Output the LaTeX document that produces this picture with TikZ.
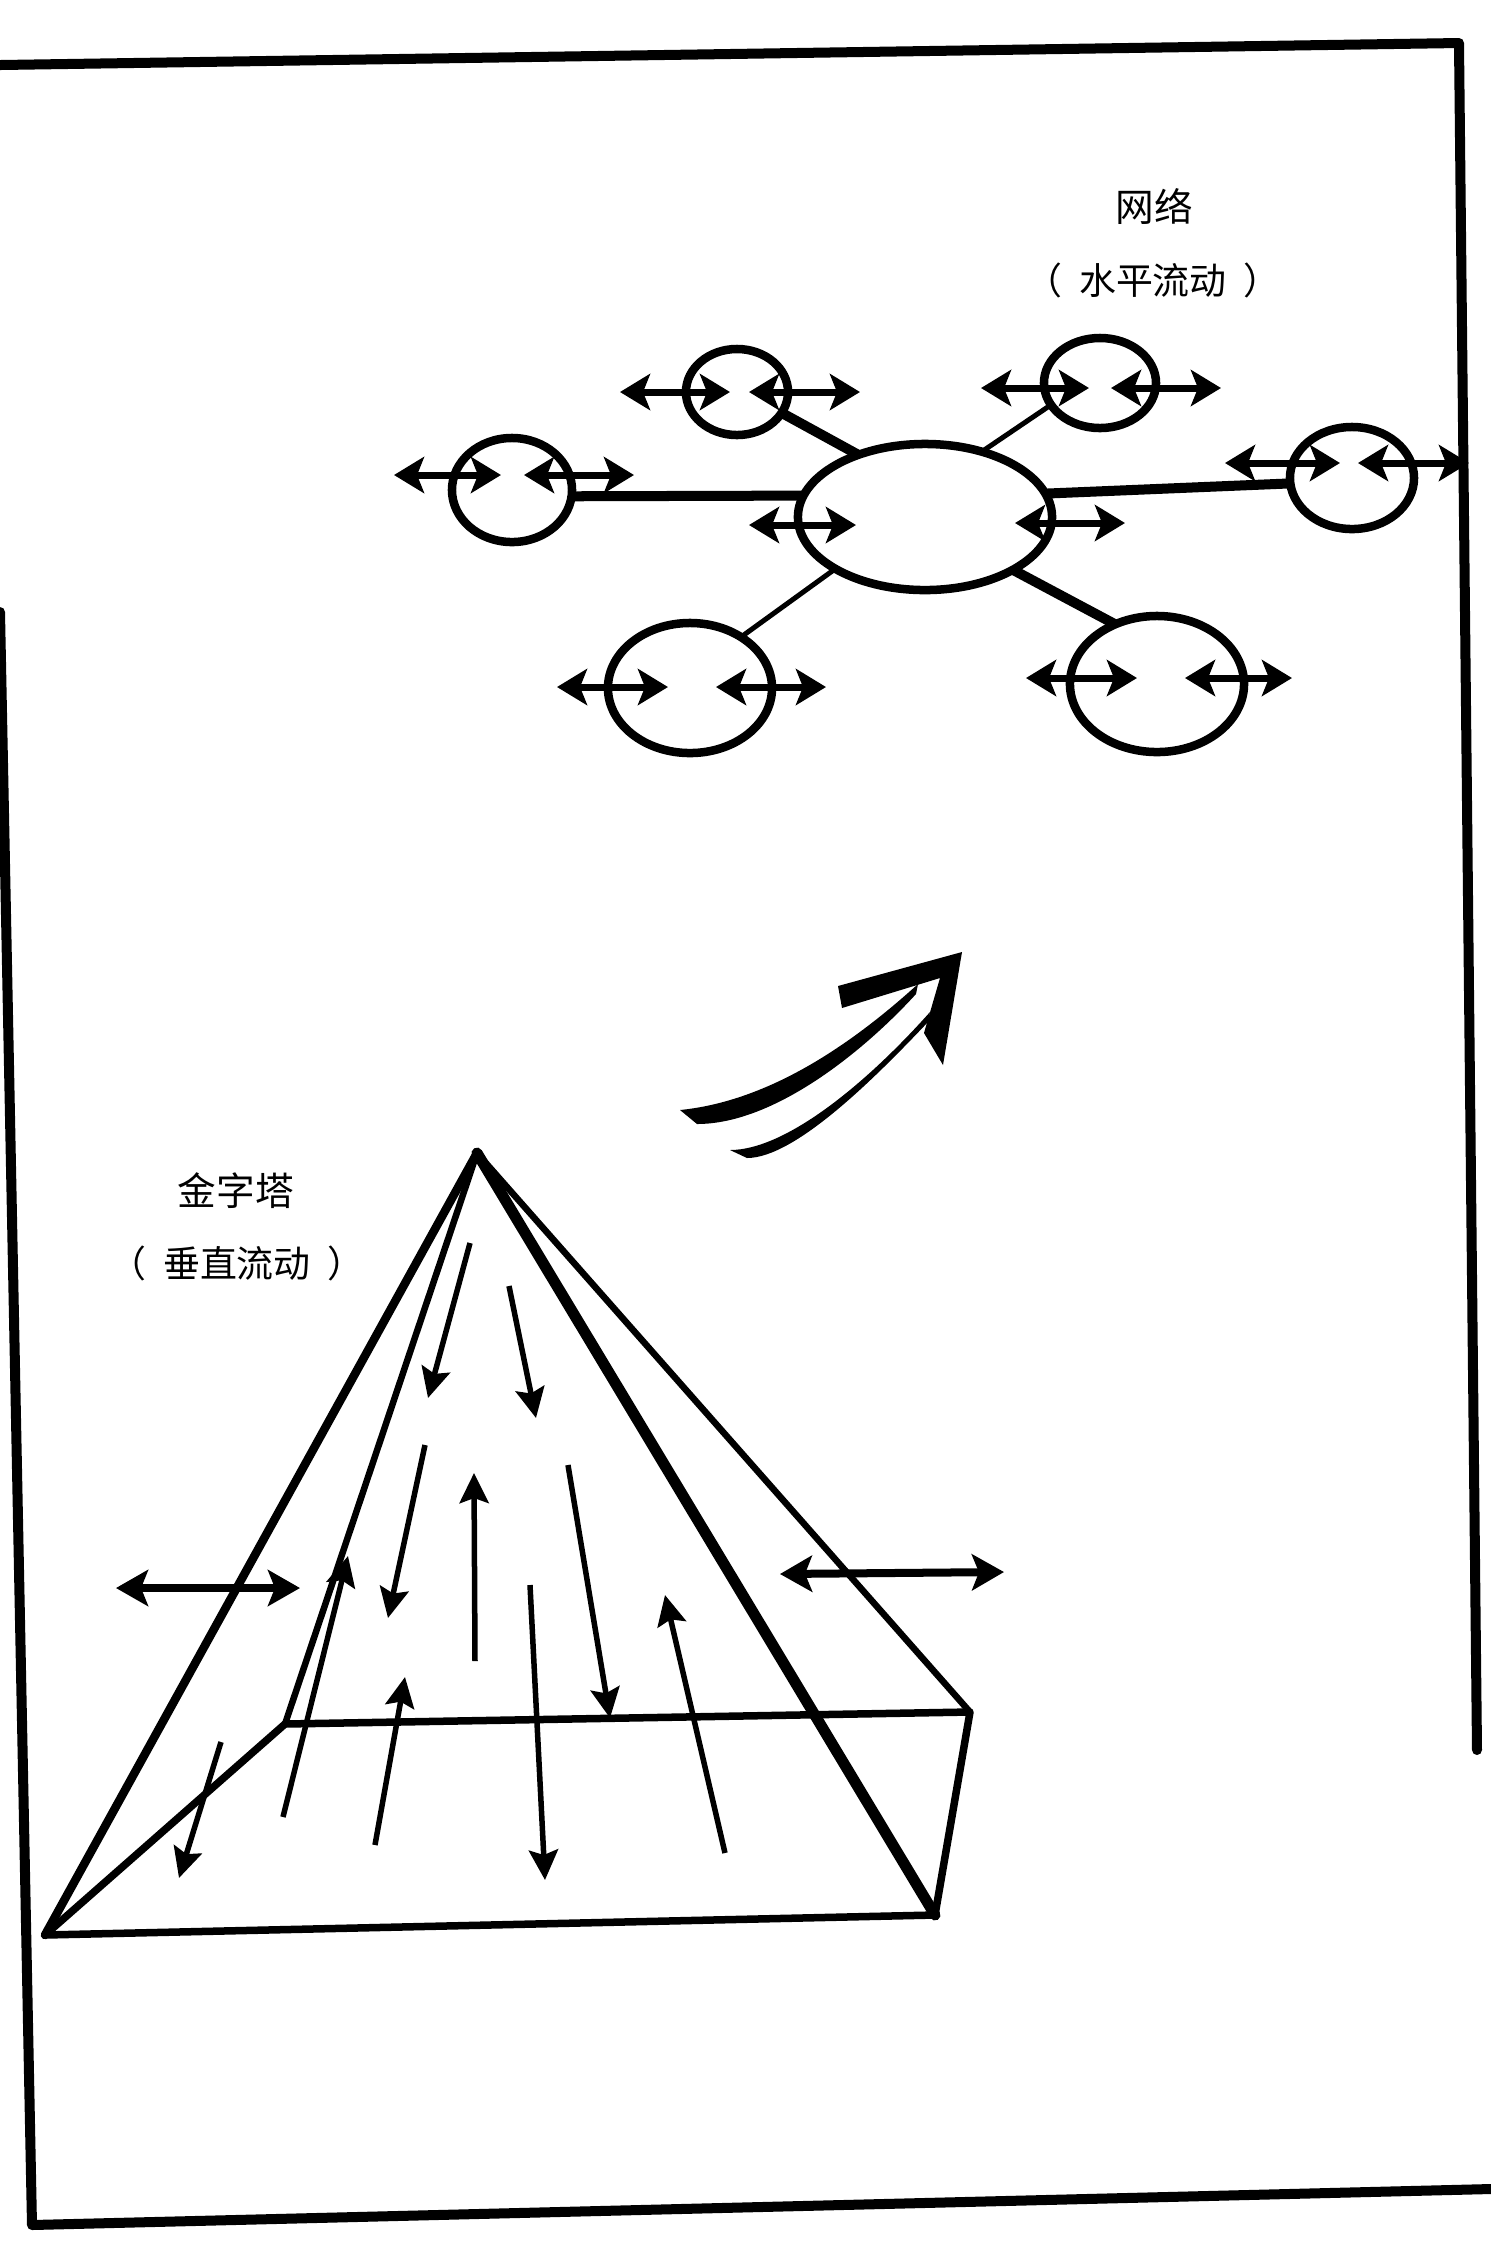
\documentclass[tikz,border=0pt]{standalone}
\usepackage{fontspec}
\newfontfamily\cjk{Noto Sans CJK SC}
\usetikzlibrary{shapes.geometric,arrows.meta}

\tikzset{
    frameline/.style={line width=0.1cm,line cap=round,line join=round},
    bubble/.style={ellipse,draw,line width=0.085cm,inner sep=0pt,outer sep=0pt},
    flow/.style={line width=0.07cm,{Stealth[length=3mm,width=3.6mm,inset=0.7mm]}-{Stealth[length=3mm,width=3.6mm,inset=0.7mm]}},
    thicklink/.style={line width=0.1cm},
    thinlink/.style={line width=0.05cm},
    ridge/.style={line width=0.075cm,line cap=round,line join=round},
    drift/.style={line width=0.055cm,-{Stealth[length=3mm,width=2.9mm,inset=0.5mm]}},
    sway/.style={line width=0.08cm,{Stealth[length=3.2mm,width=3.6mm,inset=0.7mm]}-{Stealth[length=3.2mm,width=3.6mm,inset=0.7mm]}},
    title/.style={font=\cjk\fontsize{11pt}{13pt}\selectfont,inner sep=0pt},
    note/.style={font=\cjk\fontsize{10.5pt}{12pt}\selectfont,inner sep=0pt}
}

\begin{document}
\begin{tikzpicture}[x=0.01cm,y=-0.01cm]
    \useasboundingbox (0,0) rectangle (1491,2265);

    % frame
    \draw[frameline] (0,65) -- (1459,43) -- (1477,1750);
    \draw[frameline] (0,612) -- (32,2225) -- (1491,2189);

    % labels
    \node[title] (net) at (1154,206) {网络};
    \node[note] (netsub) at (1153,280) {（\hspace{0.45em}水平流动\hspace{0.45em}）};
    \node[title] (pyr) at (236,1191) {金字塔};
    \node[note] (pyrsub) at (237,1263) {（\hspace{0.45em}垂直流动\hspace{0.45em}）};

    % network
    \node[bubble,minimum width=2.54cm,minimum height=1.46cm] (hub) at (925,517) {};
    \node[bubble,minimum width=1.02cm,minimum height=0.86cm] (ul) at (737,392) {};
    \node[bubble,minimum width=1.12cm,minimum height=0.90cm] (ur) at (1100,383) {};
    \node[bubble,minimum width=1.20cm,minimum height=1.04cm] (ml) at (512,490) {};
    \node[bubble,minimum width=1.24cm,minimum height=1.02cm] (mr) at (1352,478) {};
    \node[bubble,minimum width=1.64cm,minimum height=1.30cm] (dl) at (690,688) {};
    \node[bubble,minimum width=1.74cm,minimum height=1.36cm] (dr) at (1157,684) {};

    \draw[thicklink] (hub.137) -- (ul.-25);
    \draw[thinlink] (hub.49) -- (ur.204);
    \draw[thicklink] (hub.170) -- (ml.-6);
    \draw[thicklink] (hub.11) -- (mr.185);
    \draw[thinlink] (hub.210) -- (dl.45);
    \draw[thicklink] (hub.329) -- (dr.125);

    \foreach \y/\a/\b/\c/\d in {392/620/730/749/860, 388/981/1089/1111/1221,
        475/394/501/524/634, 463/1225/1340/1358/1469,
        687/557/668/716/826, 678/1026/1137/1185/1292}
    {
        \draw[flow] (\a,\y) -- (\b,\y);
        \draw[flow] (\c,\y) -- (\d,\y);
    }
    \draw[flow] (749,525) -- (856,525);
    \draw[flow] (1015,523) -- (1125,523);

    % curved arrow
    \fill (680,1110) .. controls (760,1102) and (840,1055) .. (918,984)
        -- (916,994) .. controls (865,1050) and (775,1124) .. (697,1124) -- cycle;
    \fill (730,1150) .. controls (785,1150) and (865,1085) .. (930,1012)
        -- (928,1022) .. controls (875,1078) and (795,1158) .. (747,1158) -- cycle;
    \fill (838,986) -- (962,952) -- (943,1065) -- (924,1033) -- (940,978) -- (842,1008) -- cycle;

    % pyramid
    \coordinate (T) at (477,1153);
    \coordinate (A) at (45,1935);
    \coordinate (B) at (935,1915);
    \coordinate (C) at (970,1712);
    \coordinate (D) at (285,1724);

    \draw[ridge,line width=0.085cm] (T) -- (A);
    \draw[ridge,line width=0.11cm] (T) -- (B);
    \draw[ridge,line width=0.065cm] (T) -- (C);
    \draw[ridge,line width=0.065cm] (T) -- (D);
    \draw[ridge] (A) -- (B) -- (C) -- (D) -- cycle;

    \foreach \p/\q in {470/1243, 509/1286, 425/1445, 475/1661, 568/1465,
        725/1853, 375/1845, 283/1817, 221/1742, 530/1585}
        \coordinate (s\p) at (\p,\q);
    \draw[drift] (s470) -- (428,1398);
    \draw[drift] (s509) -- (536,1418);
    \draw[drift] (s425) -- (388,1618);
    \draw[drift] (s475) -- (474,1473);
    \draw[drift] (s568) -- (610,1718);
    \draw[drift] (s725) -- (665,1595);
    \draw[drift] (s375) -- (405,1677);
    \draw[drift] (s283) -- (348,1556);
    \draw[drift] (s221) -- (179,1878);
    \draw[drift] (s530) -- (545,1880);

    \draw[sway] (116,1588) -- (300,1588);
    \draw[sway] (780,1574) -- (1004,1572);
\end{tikzpicture}
\end{document}
